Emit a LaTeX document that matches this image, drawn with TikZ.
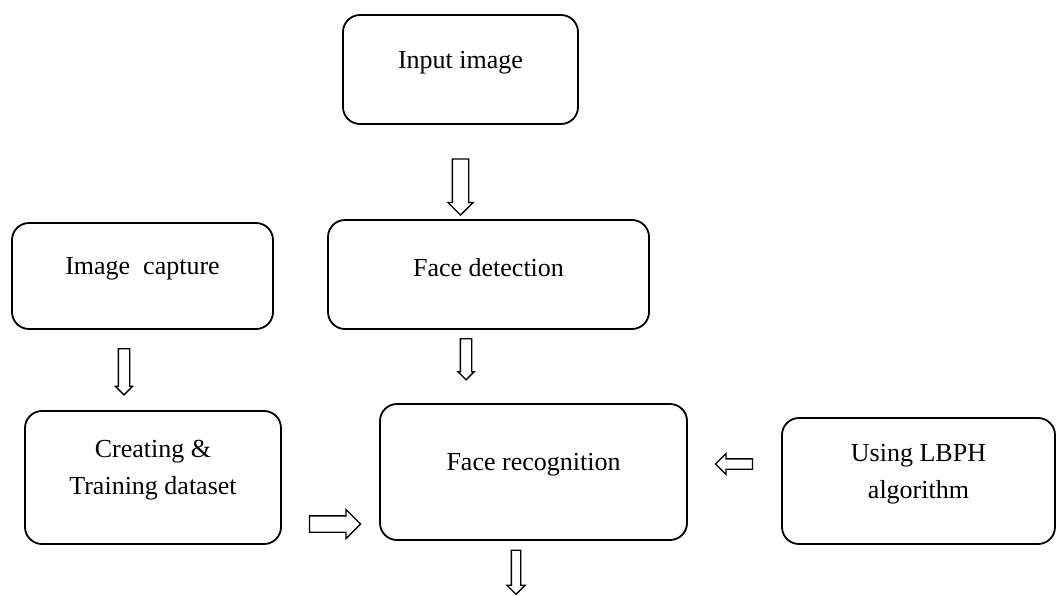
\documentclass[tikz,border=0pt]{standalone}
\usepackage{fontspec}
\setmainfont{Liberation Serif}
\usetikzlibrary{shapes.arrows}

\begin{document}
\begin{tikzpicture}[x=1pt, y=-1pt,
  box/.style={draw, rounded corners=17pt, line width=1.8pt, inner sep=0pt},
  boxtext/.style={font=\fontsize{26}{37}\selectfont, align=center, yshift=7pt},
  blockarrow/.style 2 args={single arrow, draw, line width=1.3pt, inner xsep=0pt, inner ysep=#1, single arrow head extend=#2}]
  \useasboundingbox (0,0) rectangle (1057,595);

  \node[box, minimum width=235pt, minimum height=109pt, label={[boxtext]center:Input image}] (input) at (460.5,69.5) {};
  \node[box, minimum width=261pt, minimum height=106pt, label={[boxtext]center:Image\enspace capture}] (capture) at (142.5,276) {};
  \node[box, minimum width=321pt, minimum height=109pt, label={[boxtext]center:Face detection}] (detect) at (488.5,274.5) {};
  \node[box, minimum width=256pt, minimum height=133pt, label={[boxtext]center:Creating \&\\Training dataset}] (create) at (153,477.5) {};
  \node[box, minimum width=307pt, minimum height=136pt, label={[boxtext]center:Face recognition}] (recog) at (533.5,472) {};
  \node[box, minimum width=273pt, minimum height=126pt, label={[boxtext]center:Using LBPH\\algorithm}] (lbph) at (918.5,481) {};

  \node[blockarrow={7.5pt}{4.5pt}, minimum height=56pt, rotate=-90] (input_detect) at (460.5,183) {};
  \node[blockarrow={5pt}{3pt}, minimum height=46pt, rotate=-90] (capture_create) at (124,369) {};
  \node[blockarrow={5pt}{2.5pt}, minimum height=41pt, rotate=-90] (detect_recog) at (466,356.5) {};
  \node[blockarrow={7.5pt}{6.5pt}, minimum height=51pt] (create_recog) at (331,524) {};
  \node[blockarrow={4.5pt}{5.5pt}, minimum height=37pt, rotate=180] (lbph_recog) at (736.5,464) {};
  \node[blockarrow={4pt}{4.5pt}, minimum height=44pt, rotate=-90] (recog_out) at (516,570) {};
\end{tikzpicture}
\end{document}
